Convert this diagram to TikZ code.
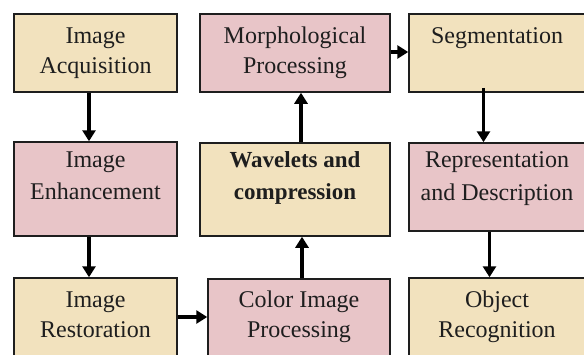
\documentclass[tikz,border=0pt]{standalone}
\usepackage{fontspec}
\setmainfont{Liberation Serif}
\usetikzlibrary{arrows.meta,fit}
\definecolor{beige}{HTML}{F2E2BE}
\definecolor{pinkish}{HTML}{E8C5C8}
\definecolor{ink}{HTML}{1E1E1E}
\begin{document}
\begin{tikzpicture}[x=1pt,y=-1pt,
  box/.style={draw=ink, line width=1.5pt, inner sep=0pt, rectangle},
  bbox/.style={box, fill=beige},
  pbox/.style={box, fill=pinkish},
  lbl/.style={font=\fontsize{24}{30}\selectfont, align=center, inner sep=0pt, anchor=north, text=ink},
  lblb/.style={lbl, font=\fontsize{23}{32}\selectfont\bfseries},
  arr/.style={draw=black, line width=3.2pt, -{Triangle[width=13pt,length=11pt]}}]
\useasboundingbox (0,0) rectangle (584,354);
\fill[white] (0,0) rectangle (584,354);
% boxes
\node[bbox, fit={(14,14) (177,92)}] (acq) {};
\node[pbox, fit={(200,14) (390,92)}] (morph) {};
\node[bbox, fit={(409,14) (586,92)}] (seg) {};
\node[pbox, fit={(14,142) (177,236)}] (enh) {};
\node[bbox, fit={(200,143) (390,236)}] (wav) {};
\node[pbox, fit={(409,143) (586,231)}] (rep) {};
\node[bbox, fit={(14,278) (177,356)}] (rest) {};
\node[pbox, fit={(208,279) (390,356)}] (color) {};
\node[bbox, fit={(409,278) (586,356)}] (obj) {};
% labels (first baseline - 17)
\node[lbl] at (95.5,26) {\rule{0pt}{17pt}Image\\Acquisition};
\node[lbl] at (295,26) {\rule{0pt}{17pt}Morphological\\Processing};
\node[lbl] at (497,26) {\rule{0pt}{17pt}Segmentation};
\node[lbl, font=\fontsize{24}{32}\selectfont] at (95.5,150) {\rule{0pt}{17pt}Image\\Enhancement};
\node[lblb] at (295,150) {\rule{0pt}{17pt}Wavelets and\\compression};
\node[lbl, font=\fontsize{24}{33}\selectfont] at (497,150) {\rule{0pt}{17pt}Representation\\and Description};
\node[lbl] at (95.5,290) {\rule{0pt}{17pt}Image\\Restoration};
\node[lbl] at (299,290) {\rule{0pt}{17pt}Color Image\\Processing};
\node[lbl] at (497,290) {\rule{0pt}{17pt}Object\\Recognition};
% arrows
\draw[arr] ([xshift=-6.5pt]acq.south) -- ([xshift=-6.5pt]enh.north);
\draw[arr] ([xshift=-6.5pt]enh.south) -- ([xshift=-6.5pt]rest.north);
\draw[arr] (rest.east |- 0,317) -- (color.west |- 0,317);
\coordinate (c1) at ([xshift=3pt]color.north);
\draw[arr] (c1) -- (c1 |- wav.south);
\draw[arr] ([xshift=6pt]wav.north) -- ([xshift=6pt]morph.south);
\draw[arr] (morph.east |- 0,52) -- (seg.west |- 0,52);
\draw[arr] ([xshift=-14pt,yshift=5pt]seg.south) -- ([xshift=-14pt]rep.north);
\draw[arr] ([xshift=-8pt]rep.south) -- ([xshift=-8pt]obj.north);
\end{tikzpicture}
\end{document}
